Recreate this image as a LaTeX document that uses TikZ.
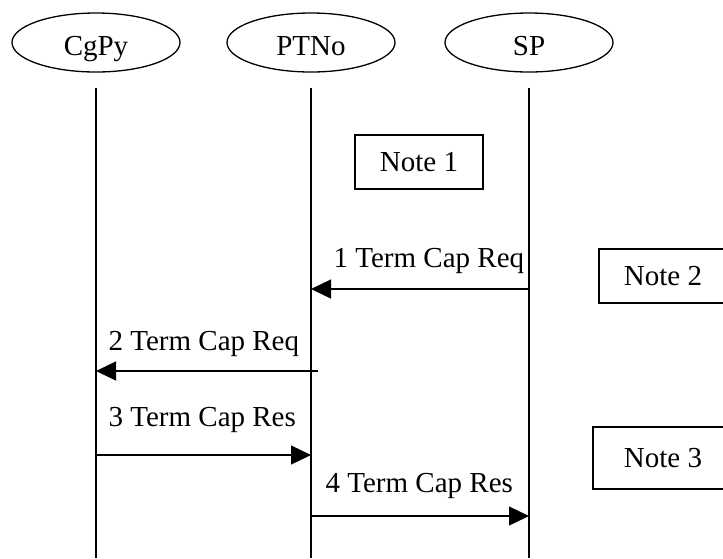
\documentclass[tikz,border=0pt]{standalone}
\usepackage{fontspec}
\setmainfont{Liberation Serif}
\usetikzlibrary{arrows.meta,shapes.geometric}
\begin{document}
\begin{tikzpicture}[x=1pt,y=-1pt,line width=1.3pt,
	party/.style={draw, ellipse, minimum width=168pt, minimum height=59pt, inner sep=0pt, text height=25pt, text depth=0pt, font=\fontsize{29}{34}\selectfont},
	notebox/.style={draw, minimum height=54pt, inner sep=0pt, font=\fontsize{29}{34}\selectfont},
	msglabel/.style={anchor=base west, inner sep=0pt, font=\fontsize{29}{34}\selectfont},
	msg/.style={-{Triangle[length=20pt,width=19pt]}}]
	\useasboundingbox (0,0) rectangle (723,558);
	% parties
	\node[party] (cgpy) at (96,42.5) {CgPy};
	\node[party] (ptno) at (311,42.5) {PTNo};
	\node[party] (sp) at (529,42.5) {SP};
	% lifelines
	\coordinate (cgpyend) at (96,558);
	\coordinate (ptnoend) at (311,558);
	\coordinate (spend) at (529,558);
	\draw ([yshift=-15pt]cgpy.south) -- (cgpyend);
	\draw ([yshift=-15pt]ptno.south) -- (ptnoend);
	\draw ([yshift=-15pt]sp.south) -- (spend);
	% notes
	\node[notebox, minimum width=128pt] (note1) at (419,162) {Note 1};
	\node[notebox, minimum width=128pt] (note2) at (663,276) {Note 2};
	\node[notebox, minimum width=140pt, minimum height=62pt] (note3) at (663,458) {Note 3};
	% messages
	\draw[msg] (sp |- 0,289) -- (ptno |- 0,289);
	\node[msglabel] (lbl1) at (333,267) {1 Term Cap Req};
	\draw[msg] ([xshift=7pt]ptno |- 0,371) -- (cgpy |- 0,371);
	\node[msglabel] (lbl2) at (108,350) {2 Term Cap Req};
	\draw[msg] (cgpy |- 0,455) -- (ptno |- 0,455);
	\node[msglabel] (lbl3) at (108,426) {3 Term Cap Res};
	\draw[msg] (ptno |- 0,516) -- (sp |- 0,516);
	\node[msglabel] (lbl4) at (325,492) {4 Term Cap Res};
\end{tikzpicture}
\end{document}
